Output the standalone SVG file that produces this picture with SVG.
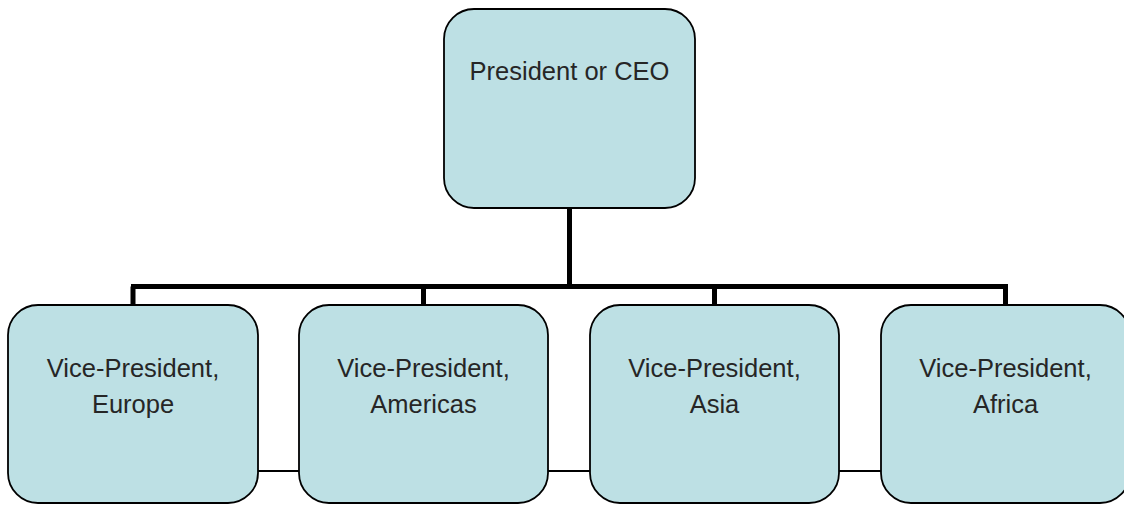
<svg xmlns="http://www.w3.org/2000/svg" width="1124" height="505" viewBox="0 0 1124 505">
<style>
.box{fill:#BDE0E4;stroke:#000;stroke-width:1.8}
.lbl{font-family:"Liberation Sans",Arial,sans-serif;font-size:25.5px;fill:#262626;text-anchor:middle}
.thick{stroke:#000;stroke-width:5;fill:none}
.thin{stroke:#000;stroke-width:2;fill:none}
</style>
<rect width="1124" height="505" fill="#fff"/>
<g id="connectors">
<path class="thick" d="M569.5 208 V286.5 M131 286.5 H1008 M133 286.5 V305 M423.5 286.5 V305 M714.5 286.5 V305 M1005.5 286.5 V305"/>
<path class="thin" d="M258 471 H299 M548 471 H590 M839 471 H881"/>
</g>
<g id="ceo">
<rect class="box" x="444" y="9" width="251" height="199" rx="30" ry="30"/>
<text class="lbl" x="569.5" y="80">President or CEO</text>
</g>
<g id="vp-europe">
<rect class="box" x="8" y="305" width="250" height="198" rx="30" ry="30"/>
<text class="lbl" x="133" y="377">Vice-President,</text>
<text class="lbl" x="133" y="413">Europe</text>
</g>
<g id="vp-americas">
<rect class="box" x="299" y="305" width="249" height="198" rx="30" ry="30"/>
<text class="lbl" x="423.5" y="377">Vice-President,</text>
<text class="lbl" x="423.5" y="413">Americas</text>
</g>
<g id="vp-asia">
<rect class="box" x="590" y="305" width="249" height="198" rx="30" ry="30"/>
<text class="lbl" x="714.5" y="377">Vice-President,</text>
<text class="lbl" x="714.5" y="413">Asia</text>
</g>
<g id="vp-africa">
<rect class="box" x="881" y="305" width="249" height="198" rx="30" ry="30"/>
<text class="lbl" x="1005.5" y="377">Vice-President,</text>
<text class="lbl" x="1005.5" y="413">Africa</text>
</g>
</svg>
